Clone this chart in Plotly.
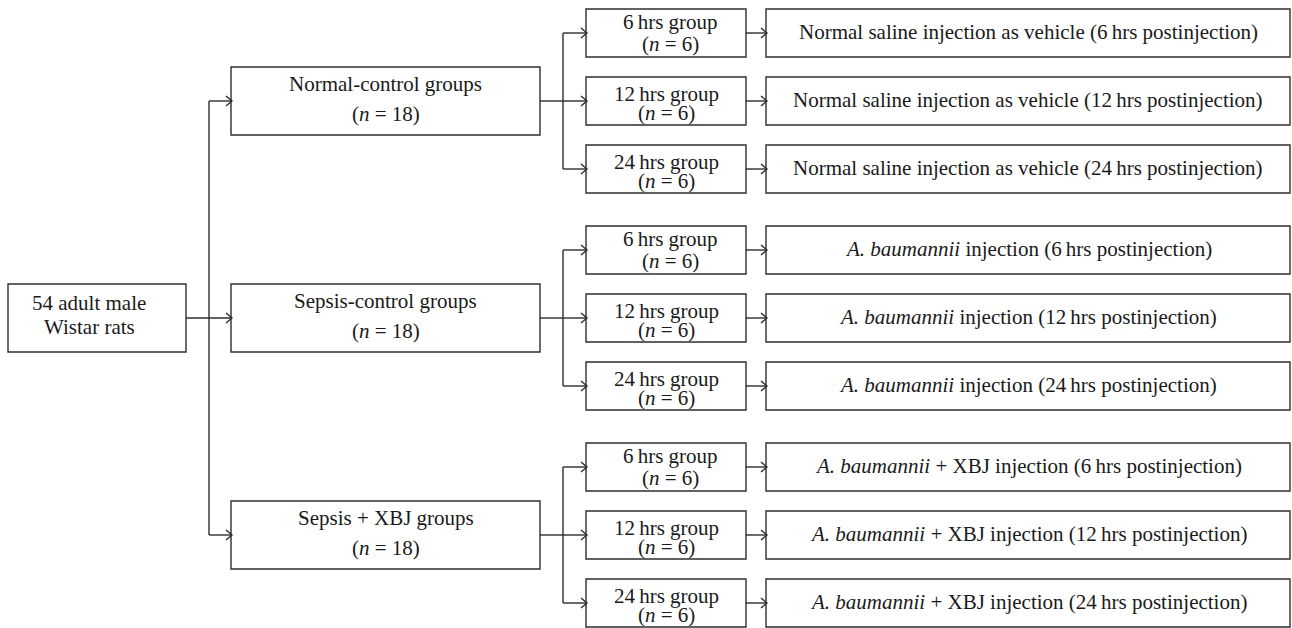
import plotly.graph_objects as go

# ---------------- data ----------------
root_lines = ["54 adult male", "Wistar rats"]
group_names = ["Normal-control groups", "Sepsis-control groups", "Sepsis + XBJ groups"]
group_n = [18, 18, 18]
time_points = [6, 12, 24]
subgroup_n = [6, 6, 6]
treatments = [
    "Normal saline injection as vehicle",
    "<i>A. baumannii</i> injection",
    "<i>A. baumannii</i> + XBJ injection",
]

# ---------------- layout constants ----------------
W, H = 1292, 628
LC = "#2e2e2e"
LW = 1.4
TXT = "#1a1a1a"
FONT = "Liberation Serif, Times New Roman, serif"
FS = 21

ROOT_X = (8, 186)
ROOT_H = 68
TRUNK_X = 209
GROUP_X = (231, 540)
GROUP_H = 68
BRANCH_X = 563
SUB_X = (586, 746)
SUB_H = 48
RES_X = (766, 1290)
GROUP_Y0 = 101
GROUP_DY = 217
ROW_DY = 68

shapes = []
annotations = []


def box(x0, x1, yc, h):
    shapes.append(dict(type="rect", xref="x", yref="y", x0=x0, x1=x1,
                       y0=yc - h / 2, y1=yc + h / 2,
                       line=dict(color=LC, width=LW), fillcolor="rgba(0,0,0,0)"))


def path(d):
    shapes.append(dict(type="path", xref="x", yref="y", path=d,
                       line=dict(color=LC, width=LW)))


def arrow(x0, x1, y):
    path(f"M{x0},{y} L{x1},{y}")
    path(f"M{x1 - 6},{y - 5} L{x1},{y} L{x1 - 6},{y + 5}")


def text(x, y, s):
    annotations.append(dict(x=x, y=y, xref="x", yref="y", text=s, showarrow=False,
                            xanchor="center", yanchor="middle",
                            font=dict(family=FONT, size=FS, color=TXT)))


group_y = [GROUP_Y0 + GROUP_DY * g for g in range(len(group_names))]
root_y = (group_y[0] + group_y[-1]) / 2

# root
box(ROOT_X[0], ROOT_X[1], root_y, ROOT_H)
text(89, root_y - 15, root_lines[0])
text(89, root_y + 9, root_lines[1])

# trunk
arrow(ROOT_X[1], GROUP_X[0] + 1, root_y)
path(f"M{TRUNK_X},{group_y[0]} L{TRUNK_X},{group_y[-1]}")
for gy in group_y:
    if gy != root_y:
        arrow(TRUNK_X, GROUP_X[0] + 1, gy)

for g, name in enumerate(group_names):
    gy = group_y[g]
    box(GROUP_X[0], GROUP_X[1], gy, GROUP_H)
    text((GROUP_X[0] + GROUP_X[1]) / 2, gy - 17, name)
    text((GROUP_X[0] + GROUP_X[1]) / 2, gy + 13, f"(<i>n</i> = {group_n[g]})")

    rows = [gy + ROW_DY * (r - 1) for r in range(len(time_points))]
    path(f"M{GROUP_X[1]},{gy} L{BRANCH_X},{gy}")
    path(f"M{BRANCH_X},{rows[0]} L{BRANCH_X},{rows[-1]}")
    for r, t in enumerate(time_points):
        ry = rows[r]
        arrow(BRANCH_X, SUB_X[0] + 1, ry)
        box(SUB_X[0], SUB_X[1], ry, SUB_H)
        cx = (SUB_X[0] + SUB_X[1]) / 2
        off1, off2 = (-11, 11) if r == 0 else (-7, 12)
        text(cx + (4 if r == 0 else 0), ry + off1, f"{t}\u2009hrs group")
        text(cx + (4 if r == 0 else 0), ry + off2, f"(<i>n</i> = {subgroup_n[r]})")

        arrow(SUB_X[1], RES_X[0] + 1, ry)
        box(RES_X[0], RES_X[1], ry, SUB_H)
        text((RES_X[0] + RES_X[1]) / 2, ry - 1, f"{treatments[g]} ({t}\u2009hrs postinjection)")

fig = go.Figure()
fig.add_trace(go.Scatter(x=[0, W], y=[0, H], mode="markers",
                         marker=dict(opacity=0), hoverinfo="skip", showlegend=False))
fig.update_layout(
    width=W, height=H,
    margin=dict(l=0, r=0, t=0, b=0),
    paper_bgcolor="white", plot_bgcolor="white",
    xaxis=dict(range=[0, W], visible=False, fixedrange=True),
    yaxis=dict(range=[H, 0], visible=False, fixedrange=True),
    shapes=shapes,
    annotations=annotations,
    showlegend=False,
)
fig.write_html("out.html", config={"displayModeBar": False},
               post_script="document.body.style.margin='0';document.body.style.overflow='hidden';")
